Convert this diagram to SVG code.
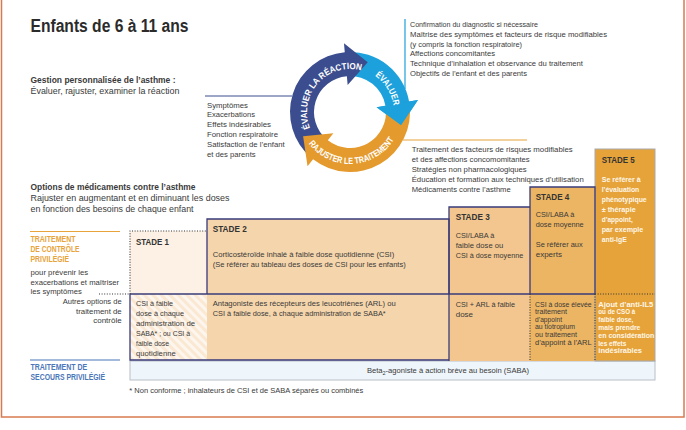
<svg xmlns="http://www.w3.org/2000/svg" width="686" height="430" viewBox="0 0 686 430">
<defs>
<style>
text{font-family:"Liberation Sans",Arial,sans-serif;fill:#3a3a3a;font-size:8px}
.b{font-weight:bold}
.h{font-size:9.5px}
.st{font-weight:bold;font-size:9.3px;fill:#333}
.or{fill:#e8a33a;font-weight:bold;font-size:8.5px}
.bl{fill:#4b77b9;font-weight:bold;font-size:8.5px}
.w{fill:#fff7e8;font-weight:bold}
.w2{fill:#fff7e8;font-weight:bold;font-size:7.6px}
.cyc{fill:#fff;font-weight:bold;font-size:9px}
.sm{font-size:7.3px}
.navy{stroke:#383b7a;stroke-width:1.3;fill:none}
.dot{stroke:#333;stroke-width:1.1;stroke-dasharray:1 1.6;fill:none}
</style>
<pattern id="hatch" width="6" height="6" patternUnits="userSpaceOnUse" patternTransform="rotate(-45)">
<rect width="6" height="6" fill="#fdf6ee"/>
<rect width="3" height="6" fill="#fae8d3"/>
</pattern>
<path id="pDB" d="M310.13,128.11 A43,43 0 0,1 364.71,71.59"/>
<path id="pLB" d="M370.66,73.15 A44,44 0 0,1 393.97,110.46"/>
<path id="pOR" d="M304.97,138 A52,52 0 0,0 397.13,133.98"/>
</defs>
<rect width="686" height="430" fill="#fff"/>
<rect x="1.5" y="-5" width="682.5" height="422" fill="none" stroke="#d87a4f" stroke-width="1.5"/>

<g id="title"><text x="30.5" y="32.3" class="b" style="font-size:18px;fill:#2b2b2b" textLength="158" lengthAdjust="spacingAndGlyphs">Enfants de 6 à 11 ans</text></g>

<g id="gestion">
<text x="30.5" y="82.5" class="b h" textLength="145" lengthAdjust="spacingAndGlyphs">Gestion personnalisée de l’asthme :</text>
<text x="30.5" y="94" class="h" textLength="149" lengthAdjust="spacingAndGlyphs">Évaluer, rajuster, examiner la réaction</text>
</g>

<g id="connectors">
<line x1="205" y1="96" x2="292" y2="96" stroke="#3b4d8e" stroke-width="1"/>
<line x1="405" y1="19" x2="405" y2="89" stroke="#1da1dc" stroke-width="1.2"/>
<line x1="403" y1="140" x2="527" y2="140" stroke="#e8a33a" stroke-width="1.2"/>
<line x1="30" y1="231.5" x2="120" y2="231.5" stroke="#e8a33a" stroke-width="1.2"/>
<line x1="30" y1="360" x2="120" y2="360" stroke="#4b77b9" stroke-width="1.2"/>
<path class="dot" d="M99,294 H130"/>
</g>

<g id="cycle">
<g id="arrow-evaluer"><path fill="#1da1dc" d="M346.86,52.08 A60,60 0 0,1 409.09,101.58 L417.95,100.02 L401.09,125.34 L376.59,107.31 L385.45,105.75 A36,36 0 0,0 348.12,76.05 Z"/></g>
<g id="arrow-examiner"><path fill="#3b4d8e" d="M311.43,157.96 A60,60 0 0,1 344.77,52.23 L343.98,43.26 L367.73,62.26 L347.65,85.10 L346.86,76.14 A36,36 0 0,0 326.86,139.58 Z"/></g>
<g id="arrow-rajuster"><path fill="#e49a2c" d="M409.42,103.65 A60,60 0 0,1 313.06,159.28 L307.52,166.37 L303.11,136.27 L333.38,133.28 L327.83,140.37 A36,36 0 0,0 385.65,106.99 Z"/></g>
<path fill="#1da1dc" d="M409.09,101.58 L417.95,100.02 L401.09,125.34 L376.59,107.31 L385.45,105.75 Z"/>
<text class="cyc"><textPath href="#pDB" textLength="95" lengthAdjust="spacingAndGlyphs">ÉVALUER LA RÉACTION</textPath></text>
<text class="cyc"><textPath href="#pLB" startOffset="50%" text-anchor="middle" textLength="36" lengthAdjust="spacingAndGlyphs">ÉVALUER</textPath></text>
<text class="cyc"><textPath href="#pOR" startOffset="50%" text-anchor="middle" textLength="100" lengthAdjust="spacingAndGlyphs">RAJUSTER LE TRAITEMENT</textPath></text>
</g>

<g id="list-examiner">
<text x="207" y="107.6" textLength="41" lengthAdjust="spacingAndGlyphs">Symptômes</text>
<text x="207" y="117.4" textLength="48" lengthAdjust="spacingAndGlyphs">Exacerbations</text>
<text x="207" y="127.3" textLength="64" lengthAdjust="spacingAndGlyphs">Effets indésirables</text>
<text x="207" y="137.3" textLength="71" lengthAdjust="spacingAndGlyphs">Fonction respiratoire</text>
<text x="207" y="147.3" textLength="77.6" lengthAdjust="spacingAndGlyphs">Satisfaction de l’enfant</text>
<text x="207" y="157" textLength="48.6" lengthAdjust="spacingAndGlyphs">et des parents</text>
</g>

<g id="list-evaluer">
<text x="410" y="27" textLength="128" lengthAdjust="spacingAndGlyphs">Confirmation du diagnostic si nécessaire</text>
<text x="410" y="36.7" textLength="197" lengthAdjust="spacingAndGlyphs">Maîtrise des symptômes et facteurs de risque modifiables</text>
<text x="410" y="46.5" textLength="112" lengthAdjust="spacingAndGlyphs">(y compris la fonction respiratoire)</text>
<text x="410" y="56.3" textLength="85" lengthAdjust="spacingAndGlyphs">Affections concomitantes</text>
<text x="410" y="66.2" textLength="173" lengthAdjust="spacingAndGlyphs">Technique d’inhalation et observance du traitement</text>
<text x="410" y="76" textLength="117" lengthAdjust="spacingAndGlyphs">Objectifs de l’enfant et des parents</text>
</g>

<g id="list-rajuster">
<text x="411.7" y="152" textLength="161" lengthAdjust="spacingAndGlyphs">Traitement des facteurs de risques modifiables</text>
<text x="411.7" y="162" textLength="118" lengthAdjust="spacingAndGlyphs">et des affections concomomitantes</text>
<text x="411.7" y="172" textLength="115" lengthAdjust="spacingAndGlyphs">Stratégies non pharmacologiques</text>
<text x="411.7" y="182" textLength="172" lengthAdjust="spacingAndGlyphs">Éducation et formation aux techniques d’utilisation</text>
<text x="411.7" y="192" textLength="99" lengthAdjust="spacingAndGlyphs">Médicaments contre l’asthme</text>
</g>

<g id="options">
<text x="30.5" y="190" class="b h" textLength="165" lengthAdjust="spacingAndGlyphs">Options de médicaments contre l’asthme</text>
<text x="30.5" y="201.2" class="h" textLength="199" lengthAdjust="spacingAndGlyphs">Rajuster en augmentant et en diminuant les doses</text>
<text x="30.5" y="212.3" class="h" textLength="163" lengthAdjust="spacingAndGlyphs">en fonction des besoins de chaque enfant</text>
</g>

<g id="label-controle">
<text x="30.5" y="242.3" class="or" textLength="45" lengthAdjust="spacingAndGlyphs">TRAITEMENT</text>
<text x="30.5" y="252.3" class="or" textLength="49" lengthAdjust="spacingAndGlyphs">DE CONTRÔLE</text>
<text x="30.5" y="262.3" class="or" textLength="38.6" lengthAdjust="spacingAndGlyphs">PRIVILÉGIÉ</text>
<text x="30.5" y="274.8" textLength="57.6" lengthAdjust="spacingAndGlyphs">pour prévenir les</text>
<text x="30.5" y="284.8" textLength="88.6" lengthAdjust="spacingAndGlyphs">exacerbations et maîtriser</text>
<text x="30.5" y="293.8" textLength="51.3" lengthAdjust="spacingAndGlyphs">les symptômes</text>
</g>
<g id="label-autres" text-anchor="end">
<text x="121.7" y="304.3" textLength="59" lengthAdjust="spacingAndGlyphs">Autres options de</text>
<text x="121.7" y="314" textLength="45.7" lengthAdjust="spacingAndGlyphs">traitement de</text>
<text x="121.7" y="323.3">contrôle</text>
</g>
<g id="label-secours">
<text x="30.5" y="370" class="bl" textLength="56.7" lengthAdjust="spacingAndGlyphs">TRAITEMENT DE</text>
<text x="30.5" y="380" class="bl" textLength="74.6" lengthAdjust="spacingAndGlyphs">SECOURS PRIVILÉGIÉ</text>
</g>

<g id="saba-row">
<rect x="130" y="361" width="525" height="19" fill="#eef5fb" stroke="#b9bfc6" stroke-width="1"/>
<text x="448" y="373" text-anchor="middle" style="font-size:7.6px">Beta<tspan dy="2" style="font-size:5.5px">2</tspan><tspan dy="-2">-agoniste à action brève au besoin (SABA)</tspan></text>
</g>

<g id="stade1">
<rect x="130" y="231" width="77" height="63" fill="#fcf1e4"/>
<rect x="130" y="294" width="77" height="66" fill="url(#hatch)"/>
<text x="136" y="245" class="st" textLength="33" lengthAdjust="spacingAndGlyphs">STADE 1</text>
<text x="136" y="305.7" textLength="37" lengthAdjust="spacingAndGlyphs">CSI à faible</text>
<text x="136" y="315.7" textLength="48" lengthAdjust="spacingAndGlyphs">dose à chaque</text>
<text x="136" y="325.7" textLength="59" lengthAdjust="spacingAndGlyphs">administration de</text>
<text x="136" y="335.7" textLength="54" lengthAdjust="spacingAndGlyphs">SABA* ; ou CSI à</text>
<text x="136" y="345.7" textLength="33" lengthAdjust="spacingAndGlyphs">faible dose</text>
<text x="136" y="355.7" textLength="39.7" lengthAdjust="spacingAndGlyphs">quotidienne</text>
</g>

<g id="stade2">
<rect x="207" y="219" width="242" height="141" fill="#f5d5ab"/>
<text x="212.7" y="231.5" class="st" textLength="34" lengthAdjust="spacingAndGlyphs">STADE 2</text>
<text x="212.7" y="257.3" textLength="181.6" lengthAdjust="spacingAndGlyphs">Corticostéroïde inhalé à faible dose quotidienne (CSI)</text>
<text x="212.7" y="267.3" textLength="193" lengthAdjust="spacingAndGlyphs">(Se référer au tableau des doses de CSI pour les enfants)</text>
<text x="212.7" y="305.7" textLength="183" lengthAdjust="spacingAndGlyphs">Antagoniste des récepteurs des leucotriènes (ARL) ou</text>
<text x="212.7" y="315.7" textLength="173" lengthAdjust="spacingAndGlyphs">CSI à faible dose, à chaque administration de SABA*</text>
</g>

<g id="stade3">
<rect x="449" y="207" width="81" height="154" fill="#f2c68e"/>
<text x="455.7" y="220" class="st" textLength="34" lengthAdjust="spacingAndGlyphs">STADE 3</text>
<text x="455.7" y="237.5" textLength="38.6" lengthAdjust="spacingAndGlyphs">CSI/LABA à</text>
<text x="455.7" y="247.5" textLength="47.6" lengthAdjust="spacingAndGlyphs">faible dose ou</text>
<text x="455.7" y="257.5" textLength="67.6" lengthAdjust="spacingAndGlyphs">CSI à dose moyenne</text>
<text x="455.7" y="307" textLength="59.3" lengthAdjust="spacingAndGlyphs">CSI + ARL à faible</text>
<text x="455.7" y="316.5">dose</text>
</g>

<g id="stade4">
<rect x="530" y="187" width="65" height="174" fill="#ecb563"/>
<text x="535.7" y="200" class="st" textLength="33.6" lengthAdjust="spacingAndGlyphs">STADE 4</text>
<text x="535.7" y="216.5" textLength="38.6" lengthAdjust="spacingAndGlyphs">CSI/LABA à</text>
<text x="535.7" y="226.5" textLength="48" lengthAdjust="spacingAndGlyphs">dose moyenne</text>
<text x="535.7" y="247" textLength="47" lengthAdjust="spacingAndGlyphs">Se référer aux</text>
<text x="535.7" y="257">experts</text>
<text x="535" y="306.7" class="sm" textLength="56.7" lengthAdjust="spacingAndGlyphs">CSI à dose élevée</text>
<text x="535" y="314.2" class="sm" textLength="32" lengthAdjust="spacingAndGlyphs">traitement</text>
<text x="535" y="321.7" class="sm" textLength="27" lengthAdjust="spacingAndGlyphs">d’appoint</text>
<text x="535" y="329.2" class="sm" textLength="40" lengthAdjust="spacingAndGlyphs">au tiotropium</text>
<text x="535" y="336.9" class="sm" textLength="42" lengthAdjust="spacingAndGlyphs">ou traitement</text>
<text x="535" y="344.6" class="sm" textLength="56.7" lengthAdjust="spacingAndGlyphs">d’appoint à l’ARL</text>
</g>

<g id="stade5">
<rect x="595" y="149" width="60" height="212" fill="#e6a33a" stroke="#a9a9a9" stroke-width="1"/>
<text x="601.7" y="162.5" class="st" textLength="33" lengthAdjust="spacingAndGlyphs">STADE 5</text>
<text x="601.7" y="181.5" class="w" textLength="39" lengthAdjust="spacingAndGlyphs">Se référer à</text>
<text x="601.7" y="191.5" class="w" textLength="37.6" lengthAdjust="spacingAndGlyphs">l’évaluation</text>
<text x="601.7" y="201.5" class="w" textLength="45" lengthAdjust="spacingAndGlyphs">phénotypique</text>
<text x="601.7" y="211.5" class="w" textLength="34" lengthAdjust="spacingAndGlyphs">± thérapie</text>
<text x="601.7" y="221.5" class="w" textLength="31" lengthAdjust="spacingAndGlyphs">d’appoint,</text>
<text x="601.7" y="231.5" class="w" textLength="41.6" lengthAdjust="spacingAndGlyphs">par exemple</text>
<text x="601.7" y="241.5" class="w" textLength="25" lengthAdjust="spacingAndGlyphs">anti-IgE</text>
<text x="598.3" y="306.5" class="w2" textLength="55" lengthAdjust="spacingAndGlyphs">Ajout d’anti-IL5</text>
<text x="598.3" y="314.3" class="w2" textLength="37" lengthAdjust="spacingAndGlyphs">ou de CSO à</text>
<text x="598.3" y="322.1" class="w2" textLength="35" lengthAdjust="spacingAndGlyphs">faible dose,</text>
<text x="598.3" y="329.9" class="w2" textLength="42" lengthAdjust="spacingAndGlyphs">mais prendre</text>
<text x="598.3" y="337.7" class="w2" textLength="56" lengthAdjust="spacingAndGlyphs">en considération</text>
<text x="598.3" y="345.5" class="w2" textLength="28" lengthAdjust="spacingAndGlyphs">les effets</text>
<text x="598.3" y="353.3" class="w2" textLength="43.7" lengthAdjust="spacingAndGlyphs">indésirables</text>
</g>

<g id="table-lines">
<path class="navy" d="M207,294 V219 H449 V294"/>
<path class="navy" d="M449,361 V207 H530"/>
<path class="navy" d="M530,294 V187 H595 V294"/>
<path class="navy" d="M130,294 H595"/>
<path class="navy" d="M130,294 V360 H449"/>
<path class="dot" d="M130,294 V231 H207"/>
<path class="dot" d="M530,294 V361 M595,294 V361 M595,294 H655"/>
</g>

<g id="footnote"><text x="129.3" y="392.5" style="font-size:7.5px" textLength="234" lengthAdjust="spacingAndGlyphs">* Non conforme ; inhalateurs de CSI et de SABA séparés ou combinés</text></g>
</svg>
